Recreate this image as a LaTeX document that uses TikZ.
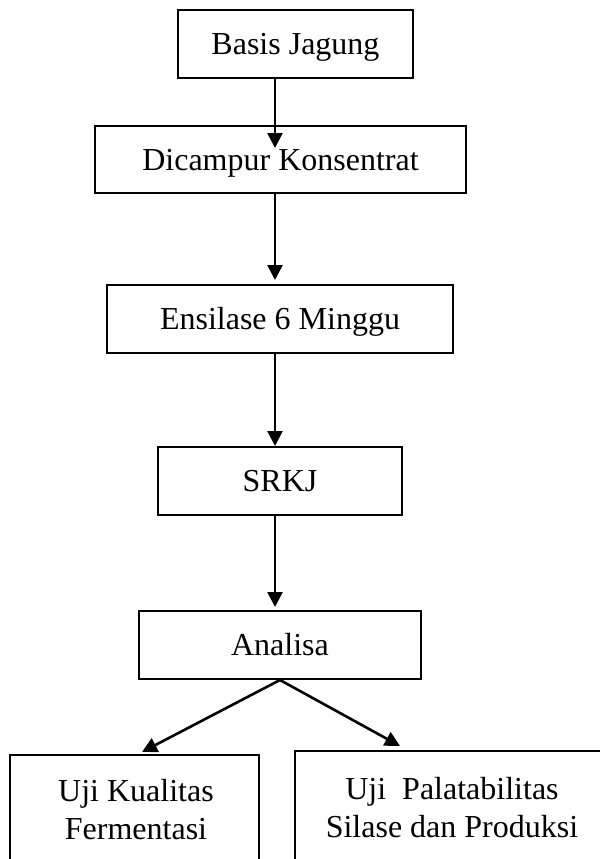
\documentclass[tikz,border=0pt]{standalone}
\usepackage{fontspec}
\setmainfont{Liberation Serif}
\usetikzlibrary{arrows.meta}
\begin{document}
\begin{tikzpicture}[x=0.5pt,y=-0.5pt,
  box/.style={draw,line width=1pt,rectangle,inner sep=0pt,
    text height=10.6pt,text depth=0pt,
    font=\fontsize{16}{19}\selectfont,align=center},
  lbl/.style={inner sep=0pt,font=\fontsize{16}{19}\selectfont,align=center},
  arr/.style={line width=1.3pt,-{Triangle[width=7.5pt,length=7.5pt]}}]
\useasboundingbox (0,0) rectangle (600,859);
\clip (0,0) rectangle (600,859);
\node[box,minimum width=117.5pt,minimum height=34pt] (b1) at (295.5,44) {Basis Jagung};
\node[box,minimum width=185.5pt,minimum height=33.5pt] (b2) at (280.5,159.5) {Dicampur Konsentrat};
\node[box,minimum width=173pt,minimum height=34pt] (b3) at (280,319) {Ensilase 6 Minggu};
\node[box,minimum width=122pt,minimum height=34pt] (b4) at (280,481) {SRKJ};
\node[box,minimum width=141pt,minimum height=34pt] (b5) at (280,645) {Analisa};
\node[box,minimum width=124.5pt,minimum height=80pt] (b6) at (134.5,835) {};
\node[box,minimum width=180pt,minimum height=80pt] (b7) at (475,831) {};
\node[lbl] (t6) at (136,810) {Uji Kualitas\\Fermentasi};
\node[lbl] (t7) at (452,808) {Uji\ \ Palatabilitas\\Silase dan Produksi};
\coordinate (ax) at (275,0);
\coordinate (lx) at (142,0);
\coordinate (rx) at (400,0);
\draw[arr] (b1.south -| ax) -- ([yshift=-11.5pt]b2.north -| ax);
\draw[arr] (b2.south -| ax) -- ([yshift=2pt]b3.north -| ax);
\draw[arr] (b3.south -| ax) -- (b4.north -| ax);
\draw[arr] (b4.south -| ax) -- ([yshift=1.5pt]b5.north -| ax);
\draw[arr] (b5.south) -- ([yshift=1pt]b6.north -| lx);
\draw[arr] (b5.south) -- ([yshift=2pt]b7.north -| rx);
\end{tikzpicture}
\end{document}
